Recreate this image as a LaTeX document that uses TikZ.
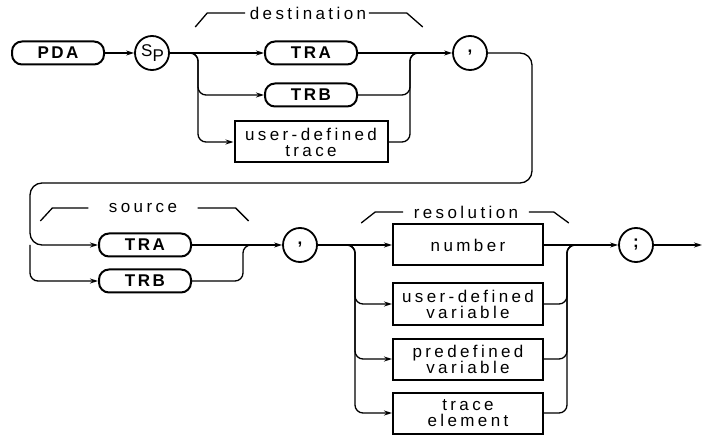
\documentclass[tikz,border=0pt]{standalone}
\usepackage{fontspec}
\usetikzlibrary{arrows.meta}
\newfontfamily\plotfont{Liberation Sans}[LetterSpace=20]
\newfontfamily\keyfont{Liberation Sans}[LetterSpace=15]

\begin{document}
\begin{tikzpicture}[x=1pt, y=-1pt, line width=1.3pt, >={Stealth[length=8pt,width=5pt]},
    keyword/.style={draw, line width=2pt, rounded corners=10pt, minimum width=92pt, minimum height=23pt,
        inner sep=0pt, font=\keyfont\bfseries\fontsize{17}{17}\selectfont},
    param/.style={draw, line width=2pt, minimum width=150pt, minimum height=41pt, align=center,
        inner sep=0pt, font=\plotfont\fontsize{17}{16}\selectfont},
    char/.style={draw, circle, line width=1.8pt, minimum size=34pt, inner sep=0pt,
        font=\plotfont\bfseries\fontsize{17}{17}\selectfont},
    label/.style={inner sep=0pt, font=\plotfont\fontsize{17}{17}\selectfont}]
    \useasboundingbox (0,0) rectangle (704,438);

    % first line: command and destination
    \node[keyword] (pda) at (58,53) {PDA};
    \node[char, font=\plotfont\fontsize{17}{17}\selectfont] (sp) at (152,53) {\kern1pt S\raisebox{-5pt}{P}};
    \node[keyword] (dtra) at (311,53) {TRA};
    \node[keyword] (dtrb) at (311,95) {TRB};
    \node[param, minimum width=153pt] (dudt) at (311,142) {user-defined\\trace};
    \node[char] (comma1) at (470,53) {,};
    \node[label] (destlbl) at (308,13) {destination};
    \coordinate (dsplit) at (198,53);
    \coordinate (dmerge) at (410,53);

    \draw (destlbl.west) ++(-4,0) -- ++(-38,0) -- ++(-12,14);
    \draw (destlbl.east) ++(2,0) -- ++(38,0) -- ++(16,14);

    \draw[->] (pda) -- (sp);
    \draw[->] (sp) -- (dtra);
    \draw[->, rounded corners=8pt] (sp.east) -| (dsplit |- dtrb.west) -- (dtrb.west);
    \draw[->, rounded corners=8pt] (sp.east) -| (dsplit |- dudt.west) -- (dudt.west);
    \draw[->] (dtra) -- (comma1);
    \draw[rounded corners=8pt] (dtrb.east) -| (dmerge) -- ([xshift=-20pt]comma1.west);
    \draw[rounded corners=8pt] (dudt.east) -| (dmerge) -- ([xshift=-20pt]comma1.west);

    % second line: source and resolution
    \node[keyword] (stra) at (145,245) {TRA};
    \node[keyword] (strb) at (145,281) {TRB};
    \node[char] (comma2) at (300,245) {,};
    \node[label] (srclbl) at (143,208) {source};
    \coordinate (smerge) at (243,245);
    \coordinate (loopR) at (532,183);
    \coordinate (loopL) at (30,183);

    \draw[->, rounded corners=12pt] (comma1.east) -| (loopR) -- (loopL) |- (stra.west);
    \draw[->, rounded corners=8pt] (loopL |- stra.west) |- (strb.west);
    \draw ([xshift=-20pt]srclbl.west) -- ++(-36,0) -- ++(-12,13);
    \draw ([xshift=20pt]srclbl.east) -- ++(38,0) -- ++(13,13);
    \draw[->] (stra) -- (comma2);
    \draw[rounded corners=8pt] (strb.east) -| (smerge) -- ([xshift=-15pt]comma2.west);

    \node[param] (num) at (468,245) {number};
    \node[param] (udv) at (468,304) {user-defined\\variable};
    \node[param] (pdv) at (468,359) {predefined\\variable};
    \node[param] (tre) at (468,413) {trace\\element};
    \node[char] (semi) at (636,245) {;};
    \node[label] (reslbl) at (466,212) {resolution};
    \coordinate (rsplit) at (355,245);
    \coordinate (rmerge) at (567,245);
    \coordinate (exit) at (702,245);

    \draw ([xshift=-10pt]reslbl.west) -- ++(-28,0) -- ++(-14,11);
    \draw ([xshift=10pt]reslbl.east) -- ++(25,0) -- ++(15,11);
    \draw[->] (comma2) -- (num);
    \foreach \n in {udv,pdv,tre}
        \draw[->, rounded corners=8pt] (comma2.east) -| (rsplit |- \n.west) -- (\n.west);
    \draw[->] (num) -- (semi);
    \foreach \n in {udv,pdv,tre}
        \draw[rounded corners=8pt] (\n.east) -| (rmerge) -- ([xshift=-20pt]semi.west);
    \draw[->] (semi) -- (exit);
\end{tikzpicture}
\end{document}
